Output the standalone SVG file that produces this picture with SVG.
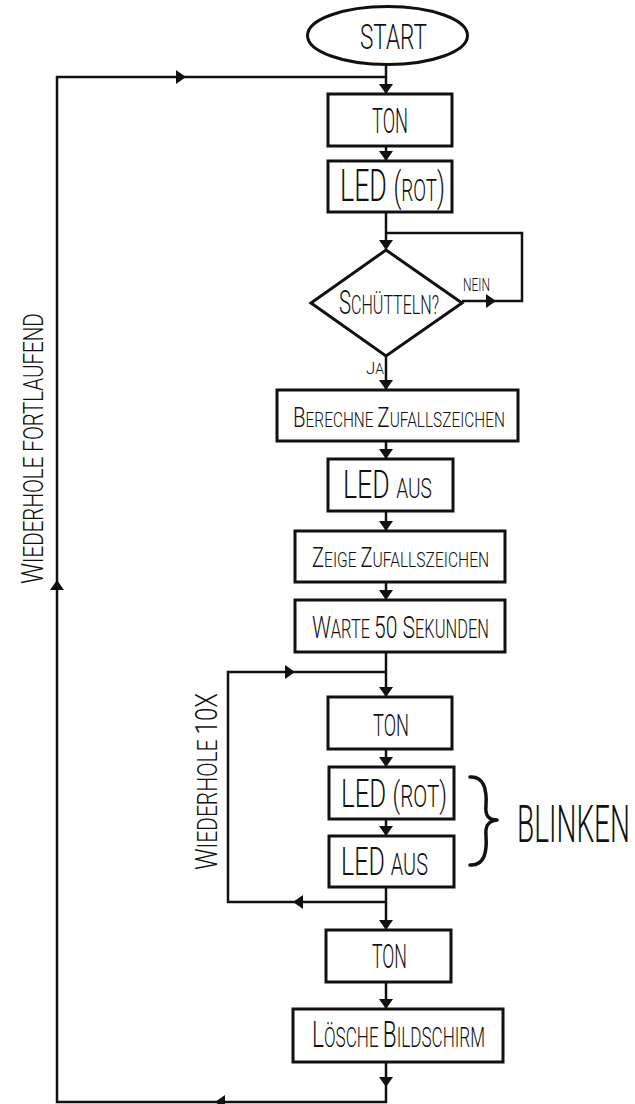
<svg xmlns="http://www.w3.org/2000/svg" xmlns:xlink="http://www.w3.org/1999/xlink" width="635" height="1104" viewBox="0 0 635 1104">
<style>
.box{fill:#fff;stroke:#111;stroke-width:3}
.ln{fill:none;stroke:#111;stroke-width:2.5}
.ah{fill:#111}
.t{font-family:Roboto,"Open Sans","Liberation Sans",sans-serif;font-weight:300;fill:#111}
.br{fill:none;stroke:#111;stroke-width:3.5;stroke-linecap:round;stroke-linejoin:round}
</style>
<defs>
<path id="ah" d="M-7,-10 L7,-10 L0,0 Z"/>
</defs>
<rect width="635" height="1104" fill="#fff"/>
<g id="connectors">
<path class="ln" d="M386,64 V93"/>
<path class="ln" d="M386,1062 V1102 H57 V77 H386"/>
<path class="ln" d="M386,146 V160"/>
<path class="ln" d="M386,212 V249"/>
<path class="ln" d="M462,301 H522 V233 H386"/>
<path class="ln" d="M386,356 V389"/>
<path class="ln" d="M386,441 V458"/>
<path class="ln" d="M386,511 V530"/>
<path class="ln" d="M386,582 V599"/>
<path class="ln" d="M386,652 V696"/>
<path class="ln" d="M386,902 H228 V672 H386"/>
<path class="ln" d="M386,749 V766"/>
<path class="ln" d="M386,819 V835"/>
<path class="ln" d="M386,887 V929"/>
<path class="ln" d="M386,982 V1008"/>
<use class="ah" xlink:href="#ah" transform="translate(386,94)"/>
<use class="ah" xlink:href="#ah" transform="translate(386,161)"/>
<use class="ah" xlink:href="#ah" transform="translate(386,250)"/>
<use class="ah" xlink:href="#ah" transform="translate(386,390)"/>
<use class="ah" xlink:href="#ah" transform="translate(386,459)"/>
<use class="ah" xlink:href="#ah" transform="translate(386,531)"/>
<use class="ah" xlink:href="#ah" transform="translate(386,600)"/>
<use class="ah" xlink:href="#ah" transform="translate(386,697)"/>
<use class="ah" xlink:href="#ah" transform="translate(386,767)"/>
<use class="ah" xlink:href="#ah" transform="translate(386,836)"/>
<use class="ah" xlink:href="#ah" transform="translate(386,930)"/>
<use class="ah" xlink:href="#ah" transform="translate(386,1009)"/>
<use class="ah" xlink:href="#ah" transform="translate(386,1087)"/>
<use class="ah" xlink:href="#ah" transform="translate(496,301) rotate(-90)"/>
<use class="ah" xlink:href="#ah" transform="translate(215,1102) rotate(90)"/>
<use class="ah" xlink:href="#ah" transform="translate(57,580) rotate(180)"/>
<use class="ah" xlink:href="#ah" transform="translate(186,77) rotate(-90)"/>
<use class="ah" xlink:href="#ah" transform="translate(295,672) rotate(-90)"/>
<use class="ah" xlink:href="#ah" transform="translate(293,902) rotate(90)"/>
</g>
<g id="start">
<ellipse class="box" cx="387.5" cy="35.5" rx="80" ry="29"/>
<text class="t" transform="translate(360,49) scale(0.609,1)" font-size="36" textLength="110" lengthAdjust="spacingAndGlyphs">START</text>
</g>
<g id="ton1">
<rect class="box" x="328" y="94" width="124" height="52"/>
<text class="t" transform="translate(372,133) scale(0.5,1)" font-size="36" textLength="72" lengthAdjust="spacingAndGlyphs">TON</text>
</g>
<g id="led-rot1">
<rect class="box" x="328" y="161" width="124" height="51"/>
<text class="t" transform="translate(340,201) scale(0.6,1)" font-size="44" textLength="175" lengthAdjust="spacingAndGlyphs">LED <tspan font-size="40">(</tspan><tspan font-size="31">ROT</tspan><tspan font-size="40">)</tspan></text>
</g>
<g id="schuetteln">
<polygon class="box" points="386,250 462,303 386,356 311,303"/>
<text class="t" transform="translate(339,314) scale(0.617,1)" font-size="26" textLength="162" lengthAdjust="spacingAndGlyphs"><tspan font-size="33">S</tspan>CHÜTTELN?</text>
<text class="t" transform="translate(463,291) scale(0.662,1)" font-size="18" textLength="40.8" lengthAdjust="spacingAndGlyphs">NEIN</text>
<text class="t" transform="translate(366,374) scale(0.973,1)" font-size="14" textLength="18.5" lengthAdjust="spacingAndGlyphs"><tspan font-size="17">J</tspan>A</text>
</g>
<g id="berechne">
<rect class="box" x="277" y="390" width="241" height="51"/>
<text class="t" transform="translate(293,427) scale(0.727,1)" font-size="21" textLength="291.5" lengthAdjust="spacingAndGlyphs"><tspan font-size="28">B</tspan>ERECHNE <tspan font-size="28">Z</tspan>UFALLSZEICHEN</text>
</g>
<g id="led-aus1">
<rect class="box" x="328" y="459" width="125" height="52"/>
<text class="t" transform="translate(343,498) scale(0.676,1)" font-size="39" textLength="131.6" lengthAdjust="spacingAndGlyphs">LED <tspan font-size="28">AUS</tspan></text>
</g>
<g id="zeige">
<rect class="box" x="295" y="531" width="210" height="51"/>
<text class="t" transform="translate(312,567) scale(0.734,1)" font-size="21" textLength="241.3" lengthAdjust="spacingAndGlyphs"><tspan font-size="27">Z</tspan>EIGE <tspan font-size="27">Z</tspan>UFALLSZEICHEN</text>
</g>
<g id="warte">
<rect class="box" x="295" y="600" width="210" height="52"/>
<text class="t" transform="translate(312,638) scale(0.654,1)" font-size="25" textLength="270.6" lengthAdjust="spacingAndGlyphs"><tspan font-size="32">W</tspan>ARTE <tspan font-size="32">50 S</tspan>EKUNDEN</text>
</g>
<g id="ton2">
<rect class="box" x="328" y="697" width="124" height="52"/>
<text class="t" transform="translate(373,736) scale(0.5625,1)" font-size="32" textLength="64" lengthAdjust="spacingAndGlyphs">TON</text>
</g>
<g id="led-rot2">
<rect class="box" x="329" y="767" width="125" height="52"/>
<text class="t" transform="translate(341,807) scale(0.654,1)" font-size="39" textLength="162.2" lengthAdjust="spacingAndGlyphs">LED <tspan font-size="36">(</tspan><tspan font-size="31">ROT</tspan><tspan font-size="36">)</tspan></text>
</g>
<g id="led-aus2">
<rect class="box" x="329" y="836" width="125" height="51"/>
<text class="t" transform="translate(341,875) scale(0.634,1)" font-size="39" textLength="137.2" lengthAdjust="spacingAndGlyphs">LED <tspan font-size="31">AUS</tspan></text>
</g>
<g id="ton3">
<rect class="box" x="326" y="930" width="125" height="52"/>
<text class="t" transform="translate(372,968) scale(0.53,1)" font-size="33" textLength="66" lengthAdjust="spacingAndGlyphs">TON</text>
</g>
<g id="loesche">
<rect class="box" x="293" y="1009" width="210" height="53"/>
<text class="t" transform="translate(312,1047) scale(0.607,1)" font-size="28" textLength="285.1" lengthAdjust="spacingAndGlyphs"><tspan font-size="37">L</tspan>ÖSCHE <tspan font-size="37">B</tspan>ILDSCHIRM</text>
</g>
<g id="wiederhole-fortlaufend">
<text class="t" transform="translate(43,584) rotate(-90) scale(0.731,1)" font-size="28" textLength="370.5" lengthAdjust="spacingAndGlyphs"><tspan font-size="32">W</tspan>IEDERHOLE FORTLAUFEND</text>
</g>
<g id="wiederhole-10x">
<text class="t" transform="translate(217,870) rotate(-90) scale(0.748,1)" font-size="28" textLength="236.6" lengthAdjust="spacingAndGlyphs"><tspan font-size="32">W</tspan>IEDERHOLE <tspan font-size="32">10X</tspan></text>
</g>
<g id="blinken">
<path class="br" d="M470,777 C484,776 487,790 486,805 C485,815 488,820 497,820 C488,821 485,826 486,836 C487,851 485,866 470,865"/>
<text class="t" transform="translate(517,842) scale(0.536,1)" font-size="52" textLength="210.8" lengthAdjust="spacingAndGlyphs">BLINKEN</text>
</g>
</svg>
